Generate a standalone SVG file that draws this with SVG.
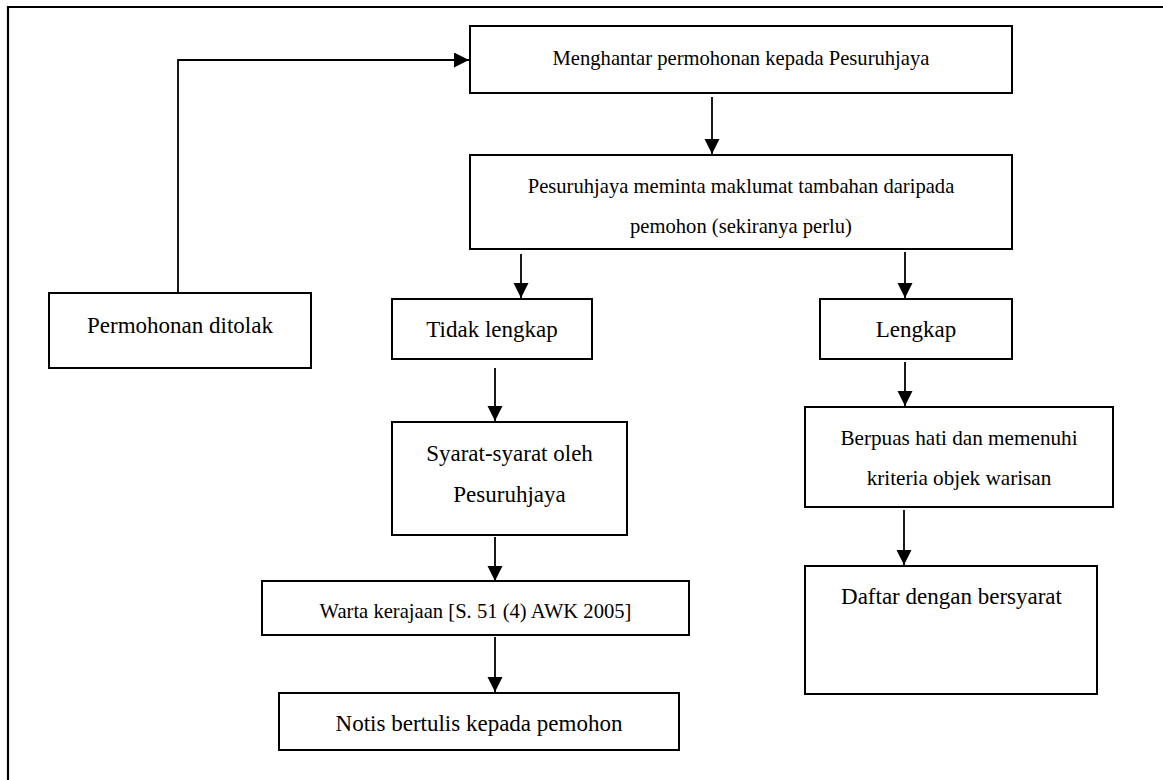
<svg xmlns="http://www.w3.org/2000/svg" width="1163" height="780" viewBox="0 0 1163 780">
<defs>
<style>
.box{fill:#fff;stroke:#000;stroke-width:2}
.t{font-family:"Liberation Serif","Times New Roman",serif;fill:#000;text-anchor:middle}
.l{font-size:23px}
.s{font-size:20.6px}
.m{font-size:21.2px}
.c{fill:none;stroke:#000;stroke-width:1.8}
</style>
<marker id="ah" markerUnits="userSpaceOnUse" markerWidth="16" markerHeight="16" refX="15" refY="7.5" orient="auto">
<path d="M0,0 L15,7.5 L0,15 Z" fill="#000"/>
</marker>
</defs>
<rect width="1163" height="780" fill="#fff"/>
<path d="M8,790 V7 H1170" fill="none" stroke="#000" stroke-width="2.2"/>

<g id="connectors">
<path class="c" d="M178,293 V60 H469" marker-end="url(#ah)"/>
<line class="c" x1="712" y1="97" x2="712" y2="154" marker-end="url(#ah)"/>
<line class="c" x1="521" y1="254" x2="521" y2="298" marker-end="url(#ah)"/>
<line class="c" x1="905" y1="252" x2="905" y2="298" marker-end="url(#ah)"/>
<line class="c" x1="495" y1="368" x2="495" y2="421" marker-end="url(#ah)"/>
<line class="c" x1="495" y1="537" x2="495" y2="581" marker-end="url(#ah)"/>
<line class="c" x1="495" y1="637" x2="495" y2="692" marker-end="url(#ah)"/>
<line class="c" x1="905" y1="362" x2="905" y2="406" marker-end="url(#ah)"/>
<line class="c" x1="904" y1="510" x2="904" y2="565" marker-end="url(#ah)"/>
</g>

<g id="n-menghantar">
<rect class="box" x="470" y="26" width="542" height="67"/>
<text class="t s" x="741" y="65">Menghantar permohonan kepada Pesuruhjaya</text>
</g>
<g id="n-pesuruhjaya">
<rect class="box" x="470" y="155" width="542" height="94"/>
<text class="t s" x="741" y="193">Pesuruhjaya meminta maklumat tambahan daripada</text>
<text class="t s" x="741" y="233">pemohon (sekiranya perlu)</text>
</g>
<g id="n-ditolak">
<rect class="box" x="49" y="293" width="262" height="75"/>
<text class="t l" x="180" y="333">Permohonan ditolak</text>
</g>
<g id="n-tidak">
<rect class="box" x="392" y="299" width="200" height="60"/>
<text class="t l" x="492" y="337">Tidak lengkap</text>
</g>
<g id="n-lengkap">
<rect class="box" x="820" y="299" width="192" height="60"/>
<text class="t l" x="916" y="337">Lengkap</text>
</g>
<g id="n-berpuas">
<rect class="box" x="805" y="407" width="308" height="100"/>
<text class="t m" x="959" y="445">Berpuas hati dan memenuhi</text>
<text class="t m" x="959" y="485">kriteria objek warisan</text>
</g>
<g id="n-syarat">
<rect class="box" x="392" y="422" width="235" height="113"/>
<text class="t l" x="509.5" y="461">Syarat-syarat oleh</text>
<text class="t l" x="509.5" y="502">Pesuruhjaya</text>
</g>
<g id="n-daftar">
<rect class="box" x="805" y="566" width="292" height="128"/>
<text class="t l" x="951.5" y="604">Daftar dengan bersyarat</text>
</g>
<g id="n-warta">
<rect class="box" x="262" y="581" width="427" height="54"/>
<text class="t s" x="475.5" y="618">Warta kerajaan [S. 51 (4) AWK 2005]</text>
</g>
<g id="n-notis">
<rect class="box" x="279" y="693" width="400" height="57"/>
<text class="t l" x="479" y="731">Notis bertulis kepada pemohon</text>
</g>
</svg>
